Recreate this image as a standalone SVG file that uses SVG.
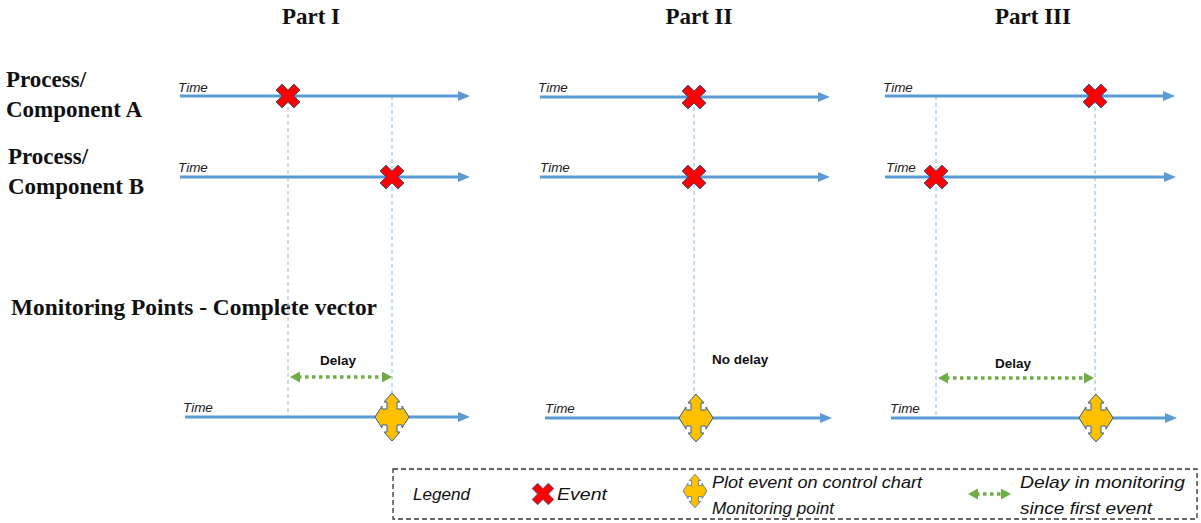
<svg xmlns="http://www.w3.org/2000/svg" width="1201" height="523" viewBox="0 0 1201 523">
<style>
.title{font-family:"Liberation Serif","Times New Roman",serif;font-weight:bold;font-size:23px;fill:#111}
.time{font-family:"Liberation Sans",Arial,sans-serif;font-style:italic;font-size:13.5px;fill:#222}
.dl{font-family:"Liberation Sans",Arial,sans-serif;font-weight:bold;font-size:13.5px;fill:#111}
.lg{font-family:"Liberation Sans",Arial,sans-serif;font-style:italic;font-size:17px;fill:#111}
.axis{stroke:#5B9BD5;stroke-width:3;fill:none}
.guide{stroke:#9DC3E6;stroke-width:1.2;stroke-dasharray:4 3;fill:none}
.delay{stroke:#70AD47;stroke-width:3.5;stroke-dasharray:3.5 3.5;fill:none}
.evt{fill:#FF0000;stroke:#3B5E91;stroke-width:1}
.mon{fill:#FFC000;stroke:#3B5E91;stroke-width:1}
</style>
<defs>
<marker id="ah" viewBox="0 0 12 10" refX="2" refY="5" markerWidth="12" markerHeight="10" markerUnits="userSpaceOnUse" orient="auto">
<path d="M0,0 L12,5 L0,10 z" fill="#5B9BD5"/>
</marker>
<marker id="gh" viewBox="0 0 10 11" refX="2" refY="5.5" markerWidth="10" markerHeight="11" markerUnits="userSpaceOnUse" orient="auto-start-reverse">
<path d="M0,0 L10,5.5 L0,11 z" fill="#70AD47"/>
</marker>
<path id="xs" d="M-12,-6 L-6,-12 L0,-6 L6,-12 L12,-6 L6,0 L12,6 L6,12 L0,6 L-6,12 L-12,6 L-6,0 Z"/>
<path id="st" d="M0,-24 L8,-15 L5,-15 L5,-8 L10,-8 L10,-11 L17,0 L10,11 L10,8 L5,8 L5,15 L8,15 L0,24 L-8,15 L-5,15 L-5,8 L-10,8 L-10,11 L-17,0 L-10,-11 L-10,-8 L-5,-8 L-5,-15 L-8,-15 Z"/>
</defs>
<rect width="1201" height="523" fill="#fff"/>

<g id="titles">
<text class="title" x="311" y="24" text-anchor="middle">Part I</text>
<text class="title" x="699" y="24" text-anchor="middle">Part II</text>
<text class="title" x="1033" y="24" text-anchor="middle">Part III</text>
</g>
<g id="row-labels">
<text class="title" x="6" y="87">Process/</text>
<text class="title" x="6" y="117">Component A</text>
<text class="title" x="8" y="164">Process/</text>
<text class="title" x="8" y="194">Component B</text>
<text class="title" x="11" y="315" textLength="366" lengthAdjust="spacingAndGlyphs">Monitoring Points - Complete vector</text>
</g>

<g id="connectors">
<line class="guide" x1="288" y1="100" x2="288" y2="416"/>
<line class="guide" x1="392" y1="96" x2="392" y2="395"/>
<line class="guide" x1="694" y1="100" x2="694" y2="395"/>
<line class="guide" x1="936" y1="96" x2="936" y2="416"/>
<line class="guide" x1="1095" y1="100" x2="1095" y2="395"/>
<line class="axis" x1="180" y1="96" x2="460" y2="96" marker-end="url(#ah)"/>
<line class="axis" x1="180" y1="177" x2="460" y2="177" marker-end="url(#ah)"/>
<line class="axis" x1="185" y1="417" x2="460" y2="417" marker-end="url(#ah)"/>
<line class="axis" x1="540" y1="97" x2="820" y2="97" marker-end="url(#ah)"/>
<line class="axis" x1="540" y1="177" x2="820" y2="177" marker-end="url(#ah)"/>
<line class="axis" x1="545" y1="418" x2="822" y2="418" marker-end="url(#ah)"/>
<line class="axis" x1="885" y1="96" x2="1165" y2="96" marker-end="url(#ah)"/>
<line class="axis" x1="885" y1="177" x2="1166" y2="177" marker-end="url(#ah)"/>
<line class="axis" x1="891" y1="418" x2="1167" y2="418" marker-end="url(#ah)"/>
<line class="delay" x1="298" y1="377" x2="384" y2="377" marker-start="url(#gh)" marker-end="url(#gh)"/>
<line class="delay" x1="946" y1="378" x2="1086" y2="378" marker-start="url(#gh)" marker-end="url(#gh)"/>
</g>

<g id="time-labels">
<text class="time" x="178" y="92">Time</text>
<text class="time" x="178" y="172">Time</text>
<text class="time" x="183" y="412">Time</text>
<text class="time" x="538" y="92">Time</text>
<text class="time" x="540" y="172">Time</text>
<text class="time" x="545" y="413">Time</text>
<text class="time" x="883" y="92">Time</text>
<text class="time" x="886" y="172">Time</text>
<text class="time" x="890" y="413">Time</text>
</g>

<g id="event-1a"><use href="#xs" class="evt" x="288" y="96"/></g>
<g id="event-1b"><use href="#xs" class="evt" x="392" y="177"/></g>
<g id="event-2a"><use href="#xs" class="evt" x="694" y="97"/></g>
<g id="event-2b"><use href="#xs" class="evt" x="694" y="177"/></g>
<g id="event-3a"><use href="#xs" class="evt" x="1095" y="96"/></g>
<g id="event-3b"><use href="#xs" class="evt" x="936" y="177"/></g>

<g id="monitor-1"><use href="#st" class="mon" x="392" y="417"/></g>
<g id="monitor-2"><use href="#st" class="mon" x="696" y="418"/></g>
<g id="monitor-3"><use href="#st" class="mon" x="1096" y="418"/></g>

<g id="delay-labels">
<text class="dl" x="338" y="365" text-anchor="middle">Delay</text>
<text class="dl" x="712" y="364">No delay</text>
<text class="dl" x="1013" y="368" text-anchor="middle">Delay</text>
</g>

<g id="legend">
<rect x="393" y="469" width="804" height="50" fill="none" stroke="#333" stroke-width="1.3" stroke-dasharray="5 3"/>
<text class="lg" x="413" y="500" textLength="57" lengthAdjust="spacingAndGlyphs">Legend</text>
<use href="#xs" class="evt" transform="translate(543 494) scale(0.9)"/>
<text class="lg" x="557" y="500" textLength="50" lengthAdjust="spacingAndGlyphs">Event</text>
<use href="#st" class="mon" transform="translate(695 491) scale(0.7)"/>
<text class="lg" x="712" y="488" textLength="210" lengthAdjust="spacingAndGlyphs">Plot event on control chart</text>
<text class="lg" x="712" y="514" textLength="122" lengthAdjust="spacingAndGlyphs">Monitoring point</text>
<line class="delay" x1="976" y1="494" x2="1003" y2="494" stroke-dasharray="3 3" marker-start="url(#gh)" marker-end="url(#gh)"/>
<text class="lg" x="1020" y="488" textLength="165" lengthAdjust="spacingAndGlyphs">Delay in monitoring</text>
<text class="lg" x="1020" y="514" textLength="132" lengthAdjust="spacingAndGlyphs">since first event</text>
</g>
</svg>
